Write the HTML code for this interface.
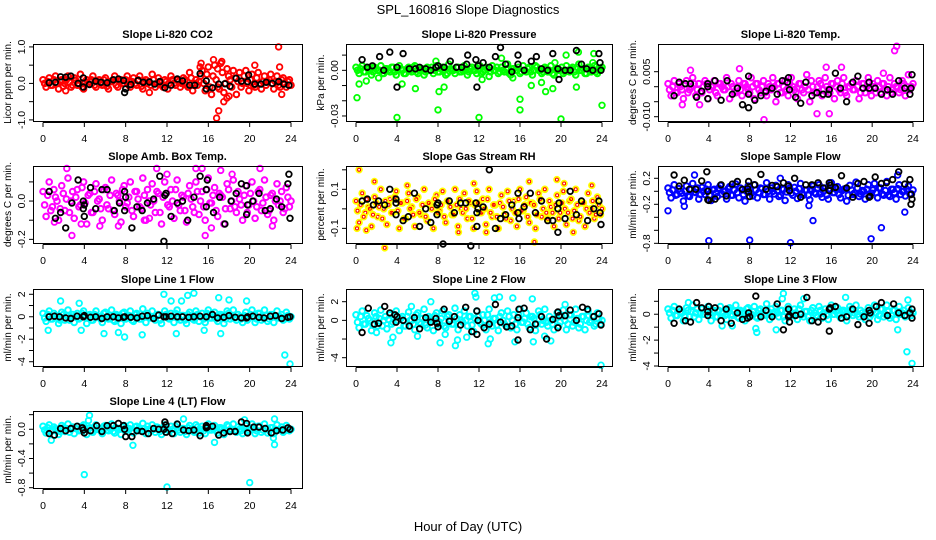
<!DOCTYPE html>
<html><head><meta charset="utf-8"><style>
html,body{margin:0;padding:0;background:#fff;}
svg{display:block;font-family:"Liberation Sans",sans-serif;}
</style></head><body>
<svg id="chart" width="936" height="540" viewBox="0 0 936 540" xmlns="http://www.w3.org/2000/svg">
<rect width="936" height="540" fill="#fff"/>
<text x="468" y="14" text-anchor="middle" font-size="13">SPL_160816  Slope Diagnostics</text>
<text x="468" y="531" text-anchor="middle" font-size="13">Hour of Day (UTC)</text>
</svg>
<script>
// ---- data ----
const xTicks = [0,4,8,12,16,20,24];
const titles = ["Slope Li-820 CO2","Slope Li-820 Pressure","Slope Li-820 Temp.","Slope Amb. Box Temp.","Slope Gas Stream RH","Slope Sample Flow","Slope Line 1 Flow","Slope Line 2 Flow","Slope Line 3 Flow","Slope Line 4 (LT) Flow"];
const yLabels = ["Licor ppm per min.","kPa per min.","degrees C per min.","degrees C per min.","percent per min.","ml/min per min.","ml/min per min.","ml/min per min.","ml/min per min.","ml/min per min."];
const yLimits = [[-1.03,1.08],[-0.0333,0.0173],[-0.01143,0.01423],[-0.219,0.183],[-0.175,0.2195],[-0.795,0.389],[-4.38,2.47],[-4.89,3.36],[-4.0,1.95],[-0.804,0.25]];
const yTickVals = [[-1,-0.5,0,0.5,1],[-0.03,-0.02,-0.01,0,0.01],[-0.01,-0.005,0,0.005],[-0.2,-0.1,0,0.1],[-0.1,0,0.1,0.2],[-0.8,-0.6,-0.4,-0.2,0,0.2],[-4,-3,-2,-1,0,1,2],[-4,-2,0,2],[-4,-3,-2,-1,0,1],[-0.8,-0.6,-0.4,-0.2,0,0.2]];
const yTickLabels = [["-1.0","","0.0","","1.0"],["-0.03","","","0.00",""],["-0.010","","","0.005"],["-0.2","","0.0",""],["-0.1","","0.1",""],["-0.8","","","-0.2","","0.2"],["-4","","-2","","0","","2"],["-4","","0","2"],["-4","","-2","","0",""],["-0.8","","-0.4","","0.0",""]];
const seriesColors = ["#ff0000","#00ff00","#ff00ff","#ff00ff","#ffff00","#0000ff","#00ffff","#00ffff","#00ffff","#00ffff"];

const cloudCO2 = [0.1,-0.1,0.15,-0.05,0.2,-0.15,0.1,0.0,0.2,-0.1,0.15,-0.05,0.25,-0.15,0.1,0.05,0.2,-0.1,0.1,-0.05,0.15,-0.15,0.05,0.2,-0.1,0.1,0.0,0.2,-0.1,0.15,-0.05,0.2,-0.15,0.1,0.05,0.25,-0.1,0.15,-0.05,0.1,-0.15,0.2,0.0,0.1,-0.1,0.15,-0.05,0.3,-0.2,0.1,0.05,0.35,-0.2,0.45,-0.3,0.5,-0.1,0.55,-0.25,0.4,0.1,0.35,-0.3,0.3,0.0,0.35,-0.2,0.25,-0.1,0.3,-0.15,0.2,0.05,0.25,-0.15,0.2,-0.1,0.15,-0.1,0.1];
const cloudCO2b = [0.0,0.05,-0.05,0.1,0.0,0.05,-0.08,0.1,0.03,-0.05,0.08,0.0,-0.1,0.05,0.0,0.1,-0.05,0.05,0.0,0.1,-0.08,0.05,0.1,-0.05,0.05,0.0,0.1,-0.05,0.05,0.0,0.1,-0.08,0.05,0.0,-0.05,0.1,0.0,0.05,-0.1,0.05,0.0,0.1,-0.05,0.05,0.0,0.1,-0.1,0.15,0.0,-0.05,0.2,0.0,0.25,-0.1,0.2,0.1,-0.15,0.3,0.0,0.2,-0.1,0.15,0.05,-0.1,0.2,0.0,0.1,-0.05,0.15,0.0,0.05,-0.05,0.1,0.0,0.05,-0.05,0.1,0.0,0.05,-0.05];
const cloudPress = [0.002,-0.002,0.003,-0.001,0.001,-0.003,0.002,0.0,0.003,-0.002,0.001,-0.001,0.002,-0.003,0.003,0.0,-0.002,0.002,-0.001,0.003,-0.002,0.001,-0.003,0.002,0.0,-0.002,0.003,-0.001,0.002,-0.003,0.004,0.0,-0.002,0.002,-0.001,0.003,-0.003,0.001,0.0,-0.002,0.003,-0.001,0.002,-0.004,0.003,0.0,-0.002,0.002,-0.001,0.004,-0.003,0.001,0.0,-0.002,0.003,-0.001,0.002,-0.003,0.003,0.0,-0.002,0.002,-0.001,0.003,-0.003,0.001,0.0,-0.002,0.003,-0.001,0.002,-0.003,0.004,0.0,-0.002,0.002,-0.001,0.003,-0.002,0.001];
const cloudPressb = [0.0,0.001,-0.001,0.002,0.0,-0.001,0.001,0.0,-0.002,0.001,0.0,0.002,-0.001,0.0,0.001,-0.002,0.001,0.0,0.002,-0.001,0.0,0.001,-0.001,0.0,0.002,0.0,-0.001,0.001,0.0,-0.002,0.001,0.0,0.002,-0.001,0.0,0.001,-0.001,0.002,0.0,0.001,-0.002,0.0,0.001,-0.001,0.0,0.002,-0.001,0.0,0.001,-0.002,0.001,0.0,0.002,-0.001,0.0,0.001,-0.001,0.0,0.002,0.0,-0.001,0.001,0.0,-0.002,0.001,0.0,0.002,-0.001,0.0,0.001,-0.001,0.002,0.0,0.001,-0.002,0.0,0.001,-0.001,0.0,0.002];
const cloudTemp = [0.001,-0.003,0.002,-0.002,0.0,-0.004,0.002,-0.001,0.003,-0.003,0.001,-0.002,0.002,-0.004,0.0,0.002,-0.003,0.001,-0.001,0.003,-0.004,0.0,-0.002,0.002,-0.003,0.001,-0.001,0.003,-0.004,0.001,-0.002,0.002,-0.003,0.0,0.003,-0.005,0.001,-0.002,0.002,-0.003,0.003,-0.001,-0.004,0.001,-0.002,0.004,-0.005,0.0,-0.002,0.002,-0.003,0.003,-0.001,0.001,-0.004,0.002,-0.002,0.003,-0.003,0.0,-0.001,0.002,-0.004,0.001,-0.002,0.003,-0.003,0.0,0.002,-0.002,0.001,-0.003,0.003,-0.001,0.0,-0.002,0.002,-0.003,0.004,0.0];
const cloudTempb = [-0.001,0.0,-0.002,0.001,-0.001,0.001,-0.002,0.0,0.001,-0.001,-0.002,0.0,0.001,-0.001,0.0,-0.002,0.001,0.0,-0.001,0.0,0.001,-0.002,0.0,-0.001,0.001,0.0,-0.002,0.0,0.001,-0.001,0.0,-0.002,0.001,-0.001,0.0,0.001,-0.002,0.0,-0.001,0.001,0.0,-0.002,0.001,-0.001,0.0,-0.001,0.002,-0.002,0.0,0.001,-0.001,0.0,-0.002,0.001,0.0,-0.001,0.001,-0.002,0.0,0.001,-0.001,0.0,-0.002,0.001,0.0,-0.001,0.001,-0.002,0.0,0.001,-0.001,0.0,-0.002,0.001,0.0,-0.001,0.001,0.0,-0.001,0.001];
const cloudAmb = [0.05,-0.08,0.1,-0.03,0.02,-0.1,0.08,-0.05,0.12,0.0,-0.09,0.06,-0.02,0.1,-0.12,0.04,-0.06,0.09,0.01,-0.1,0.07,-0.04,0.11,-0.07,0.03,-0.11,0.08,-0.01,0.1,-0.08,0.05,-0.03,0.12,-0.1,0.0,0.09,-0.06,0.04,-0.12,0.1,-0.02,0.06,-0.09,0.11,-0.05,0.02,-0.11,0.08,-0.03,0.1,-0.07,0.05,-0.1,0.12,-0.01,0.07,-0.08,0.03,-0.12,0.09,-0.04,0.11,-0.06,0.01,-0.1,0.08,-0.02,0.1,-0.09,0.05,-0.05,0.11,-0.07,0.03,-0.1,0.09,0.0,-0.06,0.07,-0.03];
const cloudAmbb = [-0.02,0.03,-0.05,0.06,0.0,-0.04,0.04,0.01,-0.06,0.05,0.02,-0.03,0.07,-0.01,0.03,-0.06,0.05,0.0,-0.04,0.06,-0.02,0.03,-0.05,0.04,0.0,0.06,-0.03,0.02,-0.05,0.05,0.01,-0.04,0.03,0.06,-0.02,0.0,0.05,-0.06,0.02,0.04,-0.03,0.0,0.06,-0.02,0.03,-0.05,0.04,0.01,-0.06,0.05,0.0,-0.03,0.06,-0.01,0.03,-0.05,0.04,0.02,-0.04,0.06,0.0,-0.03,0.05,-0.02,0.03,-0.06,0.04,0.0,-0.03,0.06,-0.01,0.02,-0.05,0.04,0.0,-0.02,0.05,-0.04,0.02,0.0];
const cloudRH = [0.04,-0.07,0.08,-0.02,0.01,-0.09,0.06,-0.04,0.1,0.0,-0.08,0.05,-0.02,0.09,-0.1,0.03,-0.05,0.08,0.01,-0.09,0.06,-0.03,0.1,-0.06,0.02,-0.1,0.07,-0.01,0.09,-0.07,0.04,-0.03,0.1,-0.09,0.0,0.08,-0.05,0.03,-0.1,0.09,-0.02,0.05,-0.08,0.1,-0.04,0.02,-0.1,0.07,-0.03,0.09,-0.06,0.04,-0.09,0.1,-0.01,0.06,-0.07,0.03,-0.1,0.08,-0.04,0.1,-0.05,0.01,-0.09,0.07,-0.02,0.09,-0.08,0.04,-0.05,0.1,-0.06,0.03,-0.09,0.08,0.0,-0.05,0.06,-0.03];
const cloudRHb = [-0.01,0.02,-0.04,0.05,0.0,-0.03,0.03,0.01,-0.05,0.04,0.02,-0.02,0.06,-0.01,0.03,-0.05,0.04,0.0,-0.03,0.05,-0.02,0.02,-0.04,0.03,0.0,0.05,-0.02,0.02,-0.04,0.04,0.01,-0.03,0.02,0.05,-0.02,0.0,0.04,-0.05,0.02,0.03,-0.02,0.0,0.05,-0.02,0.02,-0.04,0.03,0.01,-0.05,0.04,0.0,-0.02,0.05,-0.01,0.02,-0.04,0.03,0.02,-0.03,0.05,0.0,-0.02,0.04,-0.02,0.02,-0.05,0.03,0.0,-0.02,0.05,-0.01,0.02,-0.04,0.03,0.0,-0.02,0.04,-0.03,0.02,0.0];
const cloudSample = [0.05,-0.1,0.1,-0.05,0.0,-0.15,0.08,-0.08,0.12,-0.02,-0.12,0.06,-0.05,0.1,-0.14,0.03,-0.08,0.09,0.0,-0.12,0.07,-0.06,0.11,-0.1,0.02,-0.15,0.08,-0.03,0.1,-0.1,0.05,-0.05,0.13,-0.12,0.0,0.09,-0.08,0.04,-0.14,0.1,-0.03,0.06,-0.11,0.12,-0.06,0.02,-0.13,0.08,-0.04,0.1,-0.09,0.05,-0.12,0.13,-0.02,0.07,-0.1,0.03,-0.15,0.09,-0.05,0.14,-0.08,0.01,-0.12,0.1,-0.03,0.12,-0.1,0.05,-0.06,0.15,-0.08,0.03,-0.12,0.1,0.0,-0.07,0.08,-0.04];
const cloudSampleb = [-0.02,0.02,-0.06,0.04,-0.03,0.0,-0.07,0.03,-0.01,0.05,-0.05,0.0,0.03,-0.06,0.02,-0.03,0.05,-0.04,0.0,0.04,-0.06,0.02,-0.02,0.05,-0.05,0.0,0.03,-0.07,0.02,-0.02,0.04,-0.05,0.0,0.05,-0.04,0.01,-0.06,0.03,-0.01,0.05,-0.06,0.0,0.04,-0.04,0.02,-0.06,0.03,-0.02,0.05,-0.04,0.0,-0.06,0.04,-0.02,0.03,-0.05,0.01,0.04,-0.06,0.02,-0.03,0.05,-0.04,0.0,0.03,-0.06,0.02,-0.02,0.05,-0.04,0.01,-0.06,0.03,-0.02,0.04,-0.05,0.0,0.03,-0.04,0.02];
const cloudL1 = [0.3,-0.4,0.5,-0.2,0.1,-0.6,0.4,-0.3,0.6,0.0,-0.5,0.3,-0.1,0.5,-0.6,0.2,-0.3,0.5,0.0,-0.5,0.4,-0.2,0.6,-0.4,0.1,-0.6,0.4,-0.1,0.5,-0.4,0.3,-0.2,0.7,-0.5,0.0,0.5,-0.3,0.2,-0.6,0.5,-0.1,0.3,-0.5,0.6,-0.3,0.1,-0.6,0.4,-0.2,0.5,-0.4,0.3,-0.5,0.6,-0.1,0.4,-0.4,0.2,-0.6,0.5,-0.2,0.6,-0.3,0.0,-0.5,0.4,-0.1,0.6,-0.5,0.3,-0.3,0.6,-0.4,0.2,-0.5,0.5,0.0,-0.3,0.4,-0.2];
const cloudL1b = [-0.1,0.2,-0.2,0.3,0.0,-0.3,0.2,0.1,-0.3,0.2,0.1,-0.2,0.3,0.0,0.1,-0.3,0.2,0.0,-0.2,0.3,-0.1,0.1,-0.3,0.2,0.0,0.3,-0.2,0.1,-0.3,0.2,0.0,-0.2,0.1,0.3,-0.1,0.0,0.2,-0.3,0.1,0.2,-0.2,0.0,0.3,-0.1,0.1,-0.3,0.2,0.0,-0.3,0.2,0.0,-0.2,0.3,-0.1,0.1,-0.2,0.2,0.1,-0.2,0.3,0.0,-0.1,0.2,-0.2,0.1,-0.3,0.2,0.0,-0.2,0.3,-0.1,0.1,-0.2,0.2,0.0,-0.1,0.2,-0.2,0.1,0.0];
const cloudL2 = [0.6,-0.8,1.0,-0.4,0.2,-1.1,0.8,-0.6,1.1,0.0,-0.9,0.6,-0.2,1.0,-1.1,0.4,-0.6,0.9,0.0,-1.0,0.8,-0.4,1.2,-0.8,0.2,-1.1,0.8,-0.2,1.0,-0.8,0.6,-0.4,1.3,-1.0,0.0,1.0,-0.6,0.4,-1.2,1.0,-0.2,0.6,-1.0,1.2,-0.6,0.2,-1.1,0.8,-0.4,1.0,-0.8,0.6,-1.0,1.2,-0.2,0.8,-0.8,0.4,-1.1,1.0,-0.4,1.2,-0.6,0.0,-1.0,0.8,-0.2,1.1,-1.0,0.6,-0.6,1.2,-0.8,0.4,-1.0,1.0,0.0,-0.6,0.8,-0.4];
const cloudL2b = [-0.2,0.4,-0.4,0.5,0.0,-0.5,0.4,0.2,-0.6,0.4,0.1,-0.4,0.6,0.0,0.2,-0.6,0.4,0.0,-0.4,0.6,-0.2,0.2,-0.5,0.4,0.0,0.5,-0.4,0.2,-0.6,0.4,0.0,-0.4,0.2,0.6,-0.2,0.0,0.4,-0.5,0.2,0.4,-0.4,0.0,0.6,-0.2,0.2,-0.5,0.4,0.0,-0.6,0.4,0.0,-0.4,0.6,-0.2,0.2,-0.4,0.4,0.2,-0.4,0.6,0.0,-0.2,0.4,-0.4,0.2,-0.6,0.4,0.0,-0.4,0.6,-0.2,0.2,-0.4,0.4,0.0,-0.2,0.4,-0.4,0.2,0.0];
const cloudL3 = [0.4,-0.3,0.6,-0.1,0.2,-0.5,0.5,-0.2,0.7,0.1,-0.4,0.4,0.0,0.6,-0.5,0.3,-0.2,0.6,0.1,-0.4,0.5,-0.1,0.7,-0.3,0.2,-0.5,0.5,0.0,0.6,-0.3,0.4,-0.1,0.8,-0.4,0.1,0.6,-0.2,0.3,-0.5,0.6,0.0,0.4,-0.4,0.7,-0.2,0.2,-0.5,0.5,-0.1,0.6,-0.3,0.4,-0.4,0.7,0.0,0.5,-0.3,0.3,-0.5,0.6,-0.1,0.7,-0.2,0.1,-0.4,0.5,0.0,0.7,-0.4,0.4,-0.2,0.7,-0.3,0.3,-0.4,0.6,0.1,-0.2,0.5,-0.1];
const cloudL3b = [0.1,0.3,-0.1,0.4,0.1,-0.2,0.3,0.2,-0.2,0.4,0.1,0.0,0.4,0.1,0.2,-0.2,0.3,0.1,-0.1,0.4,0.0,0.2,-0.2,0.3,0.1,0.4,-0.1,0.2,-0.2,0.3,0.1,-0.1,0.2,0.4,0.0,0.1,0.3,-0.2,0.2,0.3,-0.1,0.1,0.4,0.0,0.2,-0.2,0.3,0.1,-0.2,0.3,0.1,-0.1,0.4,0.0,0.2,-0.1,0.3,0.2,-0.1,0.4,0.1,0.0,0.3,-0.1,0.2,-0.2,0.3,0.1,-0.1,0.4,0.0,0.2,-0.1,0.3,0.1,0.0,0.3,-0.1,0.2,0.1];
const cloudL4 = [0.04,-0.05,0.06,-0.02,0.01,-0.07,0.05,-0.03,0.07,0.0,-0.06,0.04,-0.01,0.06,-0.07,0.02,-0.04,0.06,0.0,-0.06,0.05,-0.02,0.07,-0.05,0.01,-0.07,0.05,-0.01,0.06,-0.05,0.04,-0.02,0.08,-0.06,0.0,0.06,-0.04,0.02,-0.07,0.06,-0.01,0.04,-0.06,0.07,-0.04,0.01,-0.07,0.05,-0.02,0.06,-0.05,0.04,-0.06,0.07,-0.01,0.05,-0.05,0.02,-0.07,0.06,-0.02,0.07,-0.04,0.0,-0.06,0.05,-0.01,0.07,-0.06,0.04,-0.04,0.07,-0.05,0.02,-0.06,0.06,0.0,-0.04,0.05,-0.02];
const cloudL4b = [-0.01,0.02,-0.03,0.03,0.0,-0.03,0.02,0.01,-0.04,0.03,0.01,-0.02,0.04,0.0,0.01,-0.03,0.03,0.0,-0.02,0.04,-0.01,0.01,-0.03,0.02,0.0,0.03,-0.02,0.01,-0.03,0.03,0.0,-0.02,0.01,0.04,-0.01,0.0,0.03,-0.03,0.01,0.02,-0.02,0.0,0.04,-0.01,0.01,-0.03,0.02,0.0,-0.04,0.03,0.0,-0.02,0.04,-0.01,0.01,-0.02,0.02,0.01,-0.02,0.04,0.0,-0.01,0.03,-0.02,0.01,-0.03,0.02,0.0,-0.02,0.04,-0.01,0.01,-0.02,0.02,0.0,-0.01,0.03,-0.02,0.01,0.0];
const clouds = [cloudCO2,cloudPress,cloudTemp,cloudAmb,cloudRH,cloudSample,cloudL1,cloudL2,cloudL3,cloudL4];
const cloudsB = [cloudCO2b,cloudPressb,cloudTempb,cloudAmbb,cloudRHb,cloudSampleb,cloudL1b,cloudL2b,cloudL3b,cloudL4b];

const outCO2 = [[16.8,-0.95],[17,-0.75],[17.5,-0.5],[17.8,-0.4],[18,-0.35],[22.8,1.0],[22.9,0.45],[15.3,0.55],[16.5,0.65],[17.3,0.6],[20.5,0.5],[23.1,-0.3],[10.3,-0.25],[2.2,-0.2],[15.2,0.45],[16.9,0.4]];
const outPress = [[0.1,-0.018],[0.3,-0.009],[1.0,-0.007],[1.6,0.002],[2.2,-0.005],[4.0,-0.031],[4.5,-0.009],[5.8,-0.012],[8.0,-0.026],[8.1,-0.014],[8.6,-0.011],[7.8,0.006],[12,-0.031],[12.3,-0.006],[14.2,0.008],[15.3,-0.005],[16,-0.019],[16,-0.026],[17.1,-0.01],[18.1,-0.008],[18.5,-0.014],[19.2,-0.012],[20,-0.032],[19.4,0.005],[20.5,0.01],[21.5,-0.011],[21.7,0.012],[23.2,0.011],[24,-0.023],[23.1,0.005]];
const outTemp = [[9.4,-0.011],[22.2,0.012],[22.4,0.0135],[17,0.0065],[15.8,-0.009],[14.6,-0.009],[2.2,0.0055],[1.4,-0.006],[3.1,-0.006],[7.0,0.006],[15.5,0.0065],[21.1,0.0045]];
const outAmb = [[2.3,0.17],[2.8,-0.18],[5.5,-0.13],[7.3,-0.13],[10.3,-0.09],[11,0.17],[12,0.14],[14.8,0.17],[15.4,0.17],[15.7,-0.18],[16.3,-0.14],[17.2,0.16],[18.3,0.14],[21,0.17],[22.2,-0.13],[1.1,-0.11],[3.7,-0.12],[9.8,-0.1]];
const outRH = [[0.3,0.2],[1.8,0.14],[2.8,-0.2],[0.1,-0.1],[1,-0.11],[5.0,0.12],[10.0,-0.12],[11.5,0.13],[16.9,0.14],[19.6,0.15],[20.3,0.13],[23.0,0.12],[17.4,-0.17],[21.2,-0.12],[12.7,-0.12]];
const outSample = [[0.0,-0.3],[4.0,-0.76],[8.0,-0.75],[12.0,-0.79],[14.2,-0.45],[19.9,-0.73],[20.9,-0.56],[23.2,-0.32],[2.6,0.25],[11.0,0.2],[22.5,0.25],[1.6,-0.23],[13.8,-0.22]];
const outL1 = [[1.7,1.4],[3.5,1.2],[5.9,-1.5],[7.3,-1.4],[7.9,-1.8],[9.6,-1.6],[11.7,2.0],[12.4,1.4],[12.9,-1.5],[13.4,1.4],[14.0,1.9],[14.6,2.1],[15.6,-1.2],[17.0,1.7],[17.2,-1.5],[18.0,1.5],[19.7,1.4],[23.4,-3.4],[23.9,-4.2],[0.5,-1.2],[3.7,-1.2]];
const outL2 = [[11.6,2.9],[11.7,2.5],[3.4,-2.4],[3.6,-1.8],[6.0,-1.7],[8.2,-2.4],[8.7,-1.5],[9.7,-2.7],[9.9,-2.1],[10.8,-1.8],[12.9,-2.5],[13.1,-2.0],[13.5,2.4],[14.0,2.5],[15.3,2.4],[15.5,-2.3],[17.3,-2.3],[17.2,2.3],[18.4,-1.7],[19.0,-2.2],[23.9,-4.8],[7.3,2.0],[5.4,1.5],[20.4,1.7],[2.0,-1.3]];
const outL3 = [[23.4,-2.9],[23.9,-3.8],[8.7,-1.4],[8.6,-1.1],[22.5,-1.2],[11.3,1.6],[11.2,1.2],[23.5,1.1],[17.4,1.3],[10.6,-1.2],[5.3,-0.9],[6.3,-0.9],[13.3,1.2],[2.0,0.9]];
const outL4 = [[4.0,-0.62],[12.0,-0.79],[20.0,-0.73],[8.7,-0.22],[16.6,-0.18],[22.4,-0.21],[4.5,0.19],[22.4,0.14],[4.4,0.12],[0.8,-0.15],[19.5,0.13],[13.6,0.14],[22.3,-0.12]];
const outliers = [outCO2,outPress,outTemp,outAmb,outRH,outSample,outL1,outL2,outL3,outL4];

const blkCO2 = [[0.6,0.02],[1.2,0.03],[1.7,0.18],[2.2,0.17],[2.7,0.2],[3.4,0.0],[3.9,0.15],[3.9,-0.1],[4.5,-0.03],[5.1,0.06],[5.6,0.03],[6.2,0.02],[6.8,0.1],[7.3,0.12],[7.8,0.08],[7.9,-0.25],[8.0,-0.15],[8.5,-0.03],[9.2,0.08],[9.7,0.03],[10.3,0.04],[10.8,-0.02],[11.3,0.05],[11.8,-0.12],[12.4,-0.05],[13.0,0.12],[13.5,0.07],[14.2,-0.05],[14.7,-0.05],[15.2,0.27],[15.8,0.07],[15.8,-0.15],[16.4,-0.12],[17,-0.02],[17.6,-0.01],[18.1,-0.08],[18.7,0.14],[19.2,0.06],[19.8,0.05],[19.9,0.23],[20.5,-0.02],[21.1,-0.02],[21.6,0.03],[22.2,0.0],[22.8,0.05],[23.3,-0.02],[23.8,-0.05]];
const blkPress = [[0.6,0.007],[1.1,0.002],[1.6,0.003],[2.3,0.009],[2.7,0.0],[3.3,0.012],[4.0,-0.011],[4.0,0.002],[4.6,0.011],[5.2,0.001],[5.8,0.001],[6.2,0.002],[6.8,0.001],[7.3,0.0],[7.8,0.002],[8.0,0.003],[8.6,0.002],[9.2,0.006],[9.8,0.002],[10.3,0.002],[10.8,0.004],[10.9,0.01],[11.7,0.007],[11.8,-0.011],[11.9,0.003],[12.4,0.005],[13.0,0.002],[13.6,0.009],[14.1,0.015],[14.6,0.004],[15.2,-0.001],[15.8,0.01],[15.8,0.004],[16.4,0.0],[17.1,0.006],[17.6,0.009],[18.1,0.001],[18.7,0.0],[19.2,0.011],[19.7,0.001],[19.8,-0.006],[20.4,0.0],[20.9,0.0],[21.5,0.013],[22.0,0.004],[22.5,0.001],[23.1,0.0],[23.7,0.011],[23.8,0.005],[23.9,0.0]];
const blkTemp = [[0.6,-0.003],[1.1,0.0015],[1.7,0.001],[2.2,0.001],[2.8,-0.0035],[3.3,-0.0015],[3.9,0.001],[3.9,-0.004],[3.9,0.0],[4.6,0.002],[5.2,-0.0045],[5.8,0.002],[6.3,-0.0025],[6.8,-0.0005],[7.3,-0.006],[7.9,-0.007],[7.9,-0.0025],[7.9,0.0035],[8.5,-0.0045],[9.1,-0.003],[9.6,-0.0015],[10.2,-0.0005],[10.7,-0.0025],[11.2,0.002],[11.7,0.0015],[11.8,0.003],[11.9,-0.001],[12.5,-0.0035],[13.0,-0.0055],[13.5,0.0015],[14.1,-0.003],[14.6,-0.002],[15.2,-0.0025],[15.7,-0.0025],[15.8,-0.001],[16.4,0.0045],[16.9,-0.0005],[17.5,-0.005],[18.1,0.0015],[18.6,0.0035],[19.1,-0.0005],[19.7,0.0015],[19.7,-0.0005],[20.3,-0.0005],[20.9,-0.0025],[21.5,-0.001],[22.0,-0.0025],[22.6,0.002],[23.2,-0.0005],[23.7,-0.0025],[23.8,-0.0005],[23.9,0.004]];
const blkAmb = [[0.6,0.05],[1.2,-0.09],[1.7,-0.06],[2.2,-0.14],[2.8,-0.01],[3.4,0.11],[3.9,0.0],[3.9,-0.04],[4.0,-0.08],[4.0,-0.02],[4.6,0.07],[5.1,-0.04],[5.7,0.06],[6.2,0.06],[6.9,-0.05],[7.4,-0.01],[7.9,0.05],[7.9,-0.05],[8.0,0.02],[8.6,-0.14],[9.1,-0.03],[9.6,-0.05],[10.1,-0.01],[10.7,0.01],[11.3,0.13],[11.8,0.03],[11.9,0.04],[11.7,-0.21],[12.4,-0.08],[13.0,-0.01],[13.5,0.0],[14.0,-0.1],[14.6,0.02],[15.2,0.13],[15.8,0.06],[15.8,-0.03],[15.9,0.11],[16.5,-0.06],[17.1,0.02],[17.6,-0.12],[18.2,0.0],[18.7,0.04],[19.2,0.09],[19.7,0.08],[19.7,-0.07],[19.8,-0.02],[20.3,0.0],[20.9,0.04],[21.5,-0.05],[22.0,-0.04],[22.6,0.01],[23.1,-0.03],[23.7,0.09],[23.8,0.14],[23.9,-0.09]];
const blkRH = [[0.6,0.04],[1.1,0.05],[1.7,0.02],[2.2,0.04],[2.8,0.02],[3.3,0.1],[3.9,0.03],[3.9,0.05],[3.9,-0.03],[4.6,-0.06],[5.1,-0.04],[5.7,0.08],[6.2,-0.09],[6.8,0.0],[7.3,-0.07],[7.9,0.02],[7.9,-0.03],[8.0,0.03],[8.5,-0.18],[9.1,0.04],[9.6,-0.02],[10.2,0.03],[10.7,0.03],[11.2,-0.19],[11.7,0.03],[11.8,-0.02],[11.9,0.0],[11.8,-0.09],[12.4,0.01],[13.0,0.2],[13.6,-0.1],[14.1,-0.05],[14.6,-0.03],[15.2,0.02],[15.8,0.08],[15.8,-0.02],[15.9,-0.05],[16.4,0.01],[17.0,0.08],[17.5,-0.02],[18.1,0.04],[18.7,-0.06],[19.2,-0.06],[19.7,-0.12],[19.7,0.0],[19.8,0.03],[20.4,-0.05],[20.9,0.09],[21.5,-0.03],[22.0,0.04],[22.6,-0.06],[23.2,0.0],[23.7,0.04],[23.8,-0.02],[23.9,-0.08]];
const blkSample = [[0.6,0.25],[1.1,0.08],[1.6,0.17],[2.1,0.03],[2.7,0.03],[3.3,0.16],[3.8,0.3],[3.9,0.0],[3.9,-0.13],[4.0,-0.14],[4.6,-0.12],[5.2,0.1],[5.7,-0.07],[6.3,0.11],[6.8,0.15],[7.3,0.03],[7.9,0.15],[7.9,-0.01],[7.8,0.04],[8.0,-0.08],[8.5,0.1],[9.1,0.26],[9.6,0.03],[10.2,0.09],[10.7,0.07],[11.3,0.13],[11.8,0.08],[11.9,0.01],[12.4,0.2],[13.0,-0.09],[13.5,0.1],[14.1,0.1],[14.7,0.13],[15.2,0.05],[15.8,0.01],[15.8,0.13],[15.9,0.09],[16.4,0.06],[17.0,0.24],[17.5,0.05],[18.1,-0.09],[18.6,0.12],[19.2,0.15],[19.7,-0.09],[19.8,-0.08],[20.3,0.22],[20.9,0.12],[21.4,0.13],[22.0,0.18],[22.6,0.3],[23.2,0.11],[23.7,0.18],[23.8,-0.05],[23.9,-0.12],[23.8,-0.2]];
const blkL1 = [[0.6,0.0],[1.1,0.05],[1.6,0.0],[2.2,-0.1],[2.7,-0.15],[3.3,0.05],[3.9,0.0],[4.0,0.1],[4.6,-0.05],[5.1,0.0],[5.7,-0.15],[6.2,0.0],[6.8,0.0],[7.3,-0.1],[7.8,-0.05],[7.9,0.0],[8.5,-0.05],[9.1,-0.1],[9.6,0.05],[10.1,0.1],[10.7,-0.15],[11.2,0.15],[11.7,0.0],[11.9,0.0],[12.4,0.05],[13.0,0.0],[13.5,0.0],[14.1,-0.05],[14.6,0.0],[15.2,0.05],[15.8,0.0],[16.4,0.2],[16.9,-0.1],[17.5,-0.05],[18.0,0.1],[18.6,-0.05],[19.2,-0.1],[19.7,-0.1],[19.8,0.0],[20.3,0.05],[20.9,-0.05],[21.4,-0.1],[22.0,0.05],[22.5,0.1],[23.1,-0.15],[23.7,-0.05],[23.9,0.0]];
const blkL2 = [[0.6,-1.3],[1.2,1.3],[1.8,-0.4],[2.2,-0.3],[2.8,1.5],[3.3,0.8],[3.8,0.6],[3.9,-0.2],[4.0,0.4],[4.6,0.0],[5.2,-0.6],[5.7,0.3],[6.2,-0.9],[6.8,0.3],[7.3,-0.2],[7.8,0.2],[7.9,-0.3],[8.0,-0.7],[8.6,1.2],[9.1,-0.1],[9.6,0.4],[10.2,-0.5],[10.7,1.4],[11.3,-1.2],[11.8,-1.5],[11.8,1.0],[11.9,0.0],[12.5,-0.8],[13.0,-0.4],[13.6,1.7],[14.1,-0.2],[14.7,-0.7],[15.2,-0.6],[15.8,-2.1],[15.8,0.3],[15.9,1.2],[16.4,1.3],[17.0,-1.0],[17.5,-0.4],[18.1,0.4],[18.6,-2.0],[19.2,0.1],[19.7,-0.8],[19.7,0.9],[19.8,0.5],[20.4,0.5],[20.9,1.1],[21.5,0.0],[22.1,1.4],[22.6,1.2],[23.2,0.4],[23.7,0.7],[23.9,-0.5]];
const blkL3 = [[0.6,-0.7],[1.1,0.4],[1.7,-0.5],[2.2,-0.6],[2.8,0.9],[3.3,0.5],[3.9,0.2],[3.9,-0.1],[4.0,0.6],[4.6,0.5],[5.2,-0.5],[5.7,0.4],[6.2,-0.7],[6.8,0.1],[7.3,-0.4],[7.8,-0.3],[7.9,0.1],[8.0,-0.2],[8.6,1.4],[9.1,-0.2],[9.6,0.3],[10.2,-0.2],[10.7,0.8],[11.3,-1.2],[11.8,-0.2],[11.8,0.4],[11.9,-0.6],[11.9,-0.1],[12.5,-0.1],[13.0,0.0],[13.6,1.3],[14.1,-0.5],[14.7,-0.6],[15.2,-0.2],[15.8,-1.3],[15.8,0.4],[15.9,0.5],[16.4,0.6],[17.0,-0.3],[17.5,-0.2],[18.1,0.4],[18.6,-0.8],[19.2,-0.2],[19.7,-0.7],[19.7,0.3],[19.8,0.1],[20.4,0.6],[20.9,0.9],[21.5,-0.1],[22.1,0.8],[22.6,0.1],[23.2,-0.1],[23.7,0.1],[23.9,0.4],[23.9,-0.3]];
const blkL4 = [[0.6,-0.06],[1.1,-0.08],[1.7,0.01],[2.2,-0.02],[2.7,0.01],[3.3,0.04],[3.8,0.02],[3.9,-0.01],[4.0,-0.05],[4.6,-0.02],[5.2,0.05],[5.7,-0.03],[6.2,0.05],[6.8,0.05],[7.3,0.08],[7.8,0.05],[7.9,0.0],[8.0,-0.1],[8.6,-0.1],[9.1,-0.02],[9.6,-0.03],[10.2,-0.06],[10.7,0.01],[11.2,0.0],[11.7,0.0],[11.8,0.1],[11.9,-0.04],[11.9,0.06],[12.5,-0.06],[13.0,0.07],[13.6,-0.01],[14.1,-0.02],[14.6,-0.01],[15.2,-0.09],[15.8,0.02],[15.8,0.05],[15.9,0.03],[16.4,0.04],[17.0,-0.08],[17.5,-0.05],[18.1,-0.03],[18.6,-0.03],[19.2,0.1],[19.7,0.08],[19.8,-0.05],[20.4,0.03],[20.9,0.03],[21.5,0.01],[22.1,-0.05],[22.6,-0.02],[23.2,-0.01],[23.7,0.02],[23.9,0.0]];
const blacks = [blkCO2,blkPress,blkTemp,blkAmb,blkRH,blkSample,blkL1,blkL2,blkL3,blkL4];

// ---- layout ----
const cols = [{L:33,R:302,x0:43,x24:291},{L:346,R:612,x0:356,x24:602},{L:658,R:923,x0:668,x24:913}];
const rowTops = [44,166,289,411];
const boxH = 77;
const NS = "http://www.w3.org/2000/svg";
const svg = document.getElementById('chart');
function mk(tag, attrs, parent){
  const e = document.createElementNS(NS, tag);
  for (const k in attrs) e.setAttribute(k, attrs[k]);
  (parent||svg).appendChild(e);
  return e;
}
function ring(g, x, y, color, r, w){
  const c = mk('circle',{cx:x.toFixed(1),cy:y.toFixed(1),r:r,fill:'none',stroke:color,'stroke-width':w},g);
  
  
  return c;
}

titles.forEach((title, i) => {
  const col = cols[i % 3], top = rowTops[Math.floor(i / 3)], bot = top + boxH;
  const [ymin, ymax] = yLimits[i];
  const xs = h => col.x0 + (col.x24 - col.x0) * h / 24;
  const ys = v => bot - (v - ymin) / (ymax - ymin) * boxH;
  const g = mk('g', {});
  
  

  const t = mk('text',{x:(col.L+col.R)/2,y:top-6,'text-anchor':'middle','font-size':11,'font-weight':'bold'},g);
  t.textContent = title;
  
  

  const pts = mk('g',{},g);
  
  
  const color = seriesColors[i];
  [clouds[i], cloudsB[i]].forEach((cl, ci) => {
    cl.forEach((v, k) => {
      const h = (k + ci * 0.5) * 24 / (cl.length - 0.5);
      ring(pts, xs(h), ys(v), color, 2.8, 2);
      if (i === 4) ring(pts, xs(h), ys(v), '#ff0000', 1.5, 1);
    });
  });
  outliers[i].forEach(p => {
    ring(pts, xs(p[0]), ys(p[1]), color, 2.8, 1.8);
    if (i === 4) ring(pts, xs(p[0]), ys(p[1]), '#ff0000', 1.5, 1);
  });
  blacks[i].forEach(p => ring(pts, xs(p[0]), ys(p[1]), '#000', 2.8, 1.8));

  const box = mk('rect',{x:col.L+0.5,y:top+0.5,width:col.R-col.L,height:boxH,fill:'none',stroke:'#000','stroke-width':1},g);
  
  

  const xa = mk('g',{},g);
  
  
  mk('line',{x1:xs(0),x2:xs(24),y1:bot+1.5,y2:bot+1.5,stroke:'#000'},xa);
  xTicks.forEach(h => {
    mk('line',{x1:xs(h),x2:xs(h),y1:bot+1.5,y2:bot+6,stroke:'#000'},xa);
    const lt = mk('text',{x:xs(h),y:bot+21,'text-anchor':'middle','font-size':10.5},xa);
    lt.textContent = h;
    
    
  });

  const ya = mk('g',{},g);
  
  
  const tv = yTickVals[i];
  mk('line',{x1:col.L+0.5,x2:col.L+0.5,y1:ys(tv[0]),y2:ys(tv[tv.length-1]),stroke:'#000'},ya);
  tv.forEach((v, k) => {
    const y = ys(v);
    mk('line',{x1:col.L-4,x2:col.L+0.5,y1:y,y2:y,stroke:'#000'},ya);
    const lab = yTickLabels[i][k];
    if (lab) {
      const lt = mk('text',{x:col.L-8,y:y,'text-anchor':'middle','font-size':10.5,transform:`rotate(-90 ${col.L-8} ${y})`},ya);
      lt.textContent = lab;
      
      
    }
  });
  const cy = top + boxH / 2;
  const yl = mk('text',{x:col.L-22,y:cy,'text-anchor':'middle','font-size':10,transform:`rotate(-90 ${col.L-22} ${cy})`},g);
  yl.textContent = yLabels[i];
  
  
});
</script>
</body></html>
